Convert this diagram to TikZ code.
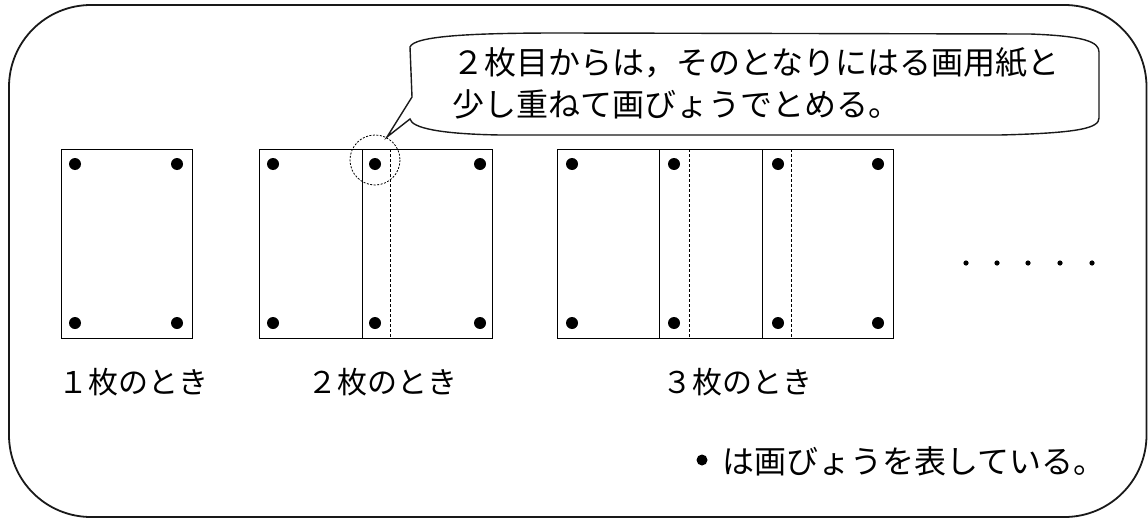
\documentclass[tikz,border=0pt]{standalone}
\usepackage{fontspec}
\newfontfamily\jpfont{Noto Sans CJK JP}
\begin{document}
\begin{tikzpicture}[x=1pt,y=-1pt,
  paper/.style={draw=black,line width=1pt},
  hidden/.style={draw=black,line width=0.9pt,dash pattern=on 3pt off 2pt},
  pin/.style={fill=black},
  lbl/.style={inner sep=0pt,font=\jpfont\fontsize{30}{36}\selectfont},
  big/.style={inner sep=0pt,font=\jpfont\fontsize{32}{38}\selectfont},
  frame/.style={draw=black!90,line width=1.8pt,rounded corners=82pt},
  bubble/.style={draw=black!90,line width=1.4pt,line join=miter}]
\useasboundingbox (0,0) rectangle (1148,519);
% outer frame
\draw[frame] (9,5) rectangle (1146.5,517);
% speech bubble
\coordinate (tip) at (387,137);
\draw[bubble] (412,97) -- (410,47)
  .. controls (414,36) and (470,33) .. (560,33) -- (1030,34)
  .. controls (1085,36) and (1099,42) .. (1099,52) -- (1099,118)
  .. controls (1099,128) and (1080,133) .. (1000,135) -- (500,135)
  .. controls (440,134) and (412,128) .. (410,119) -- (tip) -- cycle;
\node[big,anchor=west] (t1) at (452,63) {２枚目からは，そのとなりにはる画用紙と};
\node[big,anchor=west] (t2) at (452,104) {少し重ねて画びょうでとめる。};
% dashed circle
\draw[hidden,line width=0.8pt,dash pattern=on 2pt off 1.5pt] (375,160) circle (25);
% paper 1
\draw[paper] (61,149) rectangle (192,338);
\foreach \x/\y in {75/164,177/164,75/323,177/323} \fill[pin] (\x,\y) circle (6);
% 2 papers
\draw[paper] (259,149) -- (362,149) (259,149) -- (259,338) -- (362,338);
\draw[hidden] (390,149) -- (390,338);
\draw[paper] (362,149) rectangle (492,338);
\foreach \x/\y in {273/164,375/164,480/164,273/323,375/323,480/323} \fill[pin] (\x,\y) circle (6);
% 3 papers
\draw[paper] (557,149) -- (659,149) (557,149) -- (557,338) -- (659,338);
\draw[hidden] (689,149) -- (689,338);
\draw[paper] (659,149) -- (762,149) (659,149) -- (659,338) -- (762,338);
\draw[hidden] (791,149) -- (791,338);
\draw[paper] (762,149) rectangle (893,338);
\foreach \x/\y in {572/164,674/164,778/164,878/164,572/323,674/323,778/323,878/323} \fill[pin] (\x,\y) circle (6);
% ellipsis
\foreach \x in {966,997,1028,1060,1092} \fill (\x,263) circle (2.6);
% labels
\node[lbl] (l1) at (133,382) {１枚のとき};
\node[lbl] (l2) at (382,382) {２枚のとき};
\node[lbl] (l3) at (737,382) {３枚のとき};
% legend
\fill[pin] (702,460) circle (5.5);
\node[big,anchor=west] (leg) at (722,461) {は画びょうを表している。};
\end{tikzpicture}
\end{document}
